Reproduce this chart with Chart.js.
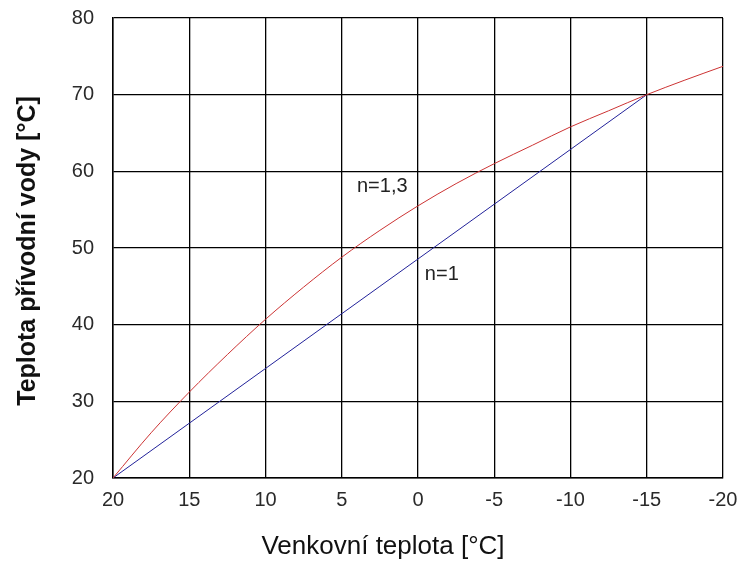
<!DOCTYPE html>
<html>
<head>
<meta charset="utf-8">
<script src="https://cdn.jsdelivr.net/npm/chart.js@4"></script>
<style>
html,body{margin:0;padding:0;background:#fff;}
#wrap{width:743px;height:563px;position:relative;}
</style>
</head>
<body>
<div id="wrap"><canvas id="c" width="743" height="563"></canvas></div>
<script>
const outdoorTemps = [20, 17.5, 15, 12.5, 10, 7.5, 5, 2.5, 0, -2.5, -5, -7.5, -10, -12.5, -15, -17.5, -20];
const curveN13 = [20, 25.9, 31.2, 36.1, 40.7, 44.9, 48.8, 52.3, 55.5, 58.4, 61.0, 63.4, 65.8, 67.9, 70, 71.9, 73.7];
const lineN1X = [20, -15];
const lineN1Y = [20, 70];
const xTicks = [20, 15, 10, 5, 0, -5, -10, -15, -20];
const yTicks = [20, 30, 40, 50, 60, 70, 80];
const xTitle = 'Venkovní teplota [°C]';
const yTitle = 'Teplota přívodní vody [°C]';
const annotations = [
  {text: 'n=1,3', x: 4.0, y: 58.0},
  {text: 'n=1', x: -0.45, y: 46.5}
];

const FONT = '"Liberation Sans", Arial, sans-serif';

const labelPlugin = {
  id: 'labels',
  afterDatasetsDraw(chart) {
    const ctx = chart.ctx;
    const xs = chart.scales.x, ys = chart.scales.y;
    ctx.save();
    ctx.font = '20px ' + FONT;
    ctx.fillStyle = '#222';
    ctx.textAlign = 'left';
    ctx.textBaseline = 'middle';
    annotations.forEach(a => {
      ctx.fillText(a.text, xs.getPixelForValue(a.x), ys.getPixelForValue(a.y));
    });
    ctx.restore();
  },
  afterDraw(chart) {
    const ctx = chart.ctx;
    ctx.save();
    ctx.fillStyle = '#111';
    ctx.textAlign = 'center';
    ctx.textBaseline = 'alphabetic';
    ctx.font = '26px ' + FONT;
    ctx.fillText(xTitle, 383, 554);
    ctx.translate(35, 251);
    ctx.rotate(-Math.PI / 2);
    ctx.font = 'bold 25px ' + FONT;
    ctx.fillText(yTitle, 0, 0);
    ctx.restore();
  }
};

new Chart(document.getElementById('c'), {
  type: 'scatter',
  data: {
    datasets: [
      {
        data: outdoorTemps.map((x, i) => ({x: x, y: curveN13[i]})),
        showLine: true, borderColor: '#cc3333', borderWidth: 1, pointRadius: 0, cubicInterpolationMode: 'monotone'
      },
      {
        data: lineN1X.map((x, i) => ({x: x, y: lineN1Y[i]})),
        showLine: true, borderColor: '#22229a', borderWidth: 1, pointRadius: 0
      }
    ]
  },
  options: {
    responsive: false,
    animation: false,
    devicePixelRatio: 1,
    layout: {padding: {top: 18, right: 20, left: 0, bottom: 0}},
    plugins: {legend: {display: false}, tooltip: {enabled: false}},
    scales: {
      x: {
        type: 'linear', reverse: true, min: -20, max: 20,
        afterBuildTicks(s) { s.ticks = xTicks.map(v => ({value: v})); },
        afterFit(s) { s.height = 85; s.paddingLeft = 0; s.paddingRight = 0; },
        grid: {color: '#000', lineWidth: 1.3, drawTicks: false},
        border: {color: '#000', width: 1.5},
        ticks: {padding: 10, color: '#2a2a2a', font: {size: 20, family: FONT}, maxRotation: 0},
        title: {display: false}
      },
      y: {
        type: 'linear', min: 20, max: 80,
        afterBuildTicks(s) { s.ticks = yTicks.map(v => ({value: v})); },
        afterFit(s) { s.width = 113; s.paddingTop = 0; s.paddingBottom = 0; },
        grid: {color: '#000', lineWidth: 1.3, drawTicks: false},
        border: {color: '#000', width: 1.5},
        ticks: {padding: 19, color: '#2a2a2a', font: {size: 20, family: FONT}},
        title: {display: false}
      }
    }
  },
  plugins: [labelPlugin]
});
</script>
</body>
</html>
